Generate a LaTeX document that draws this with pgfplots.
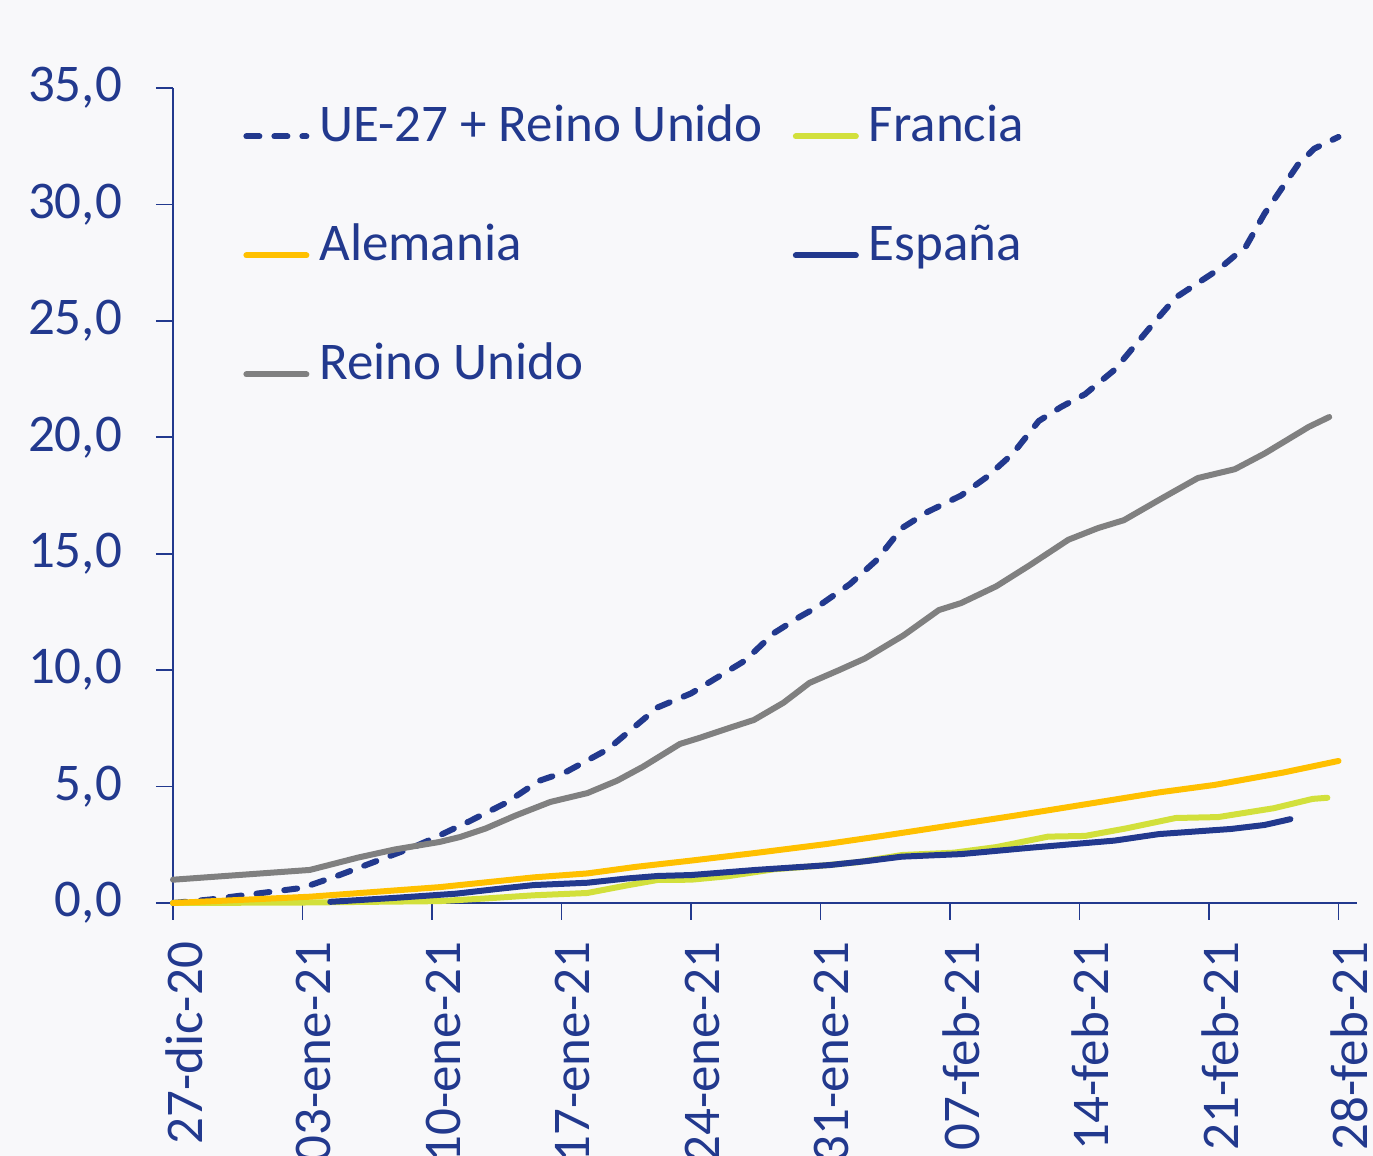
\documentclass[border=0pt]{standalone}
\usepackage{fontspec}
\setmainfont{Carlito}
\usepackage{pgfplots}
\pgfplotsset{compat=1.18}
\definecolor{navy}{HTML}{22398E}
\definecolor{gold}{HTML}{FFC000}
\definecolor{lime}{HTML}{D2E03C}
\definecolor{greyl}{HTML}{808080}
\definecolor{bg}{HTML}{F8F8FA}
\newcommand{\chartfont}{\fontsize{26.5}{32}\selectfont}
\begin{document}
\begin{tikzpicture}
\fill[bg] (-86.5pt,-126.5pt) rectangle (600pt,451.5pt);
\begin{axis}[
  at={(0pt,0pt)}, anchor=south west,
  scale only axis, width=592pt, height=407.5pt,
  xmin=0, xmax=64, ymin=0, ymax=35,
  clip=false,
  axis x line=bottom, axis y line=left,
  axis line style={-, navy, line width=0.8pt},
  tick style={navy, line width=0.8pt},
  tick align=outside, major tick length=8.5pt,
  xtick={0,7,...,63},
  xticklabels={27-dic-20,03-ene-21,10-ene-21,17-ene-21,24-ene-21,31-ene-21,07-feb-21,14-feb-21,21-feb-21,28-feb-21},
  ytick={0,5,...,35},
  every tick label/.append style={font=\chartfont, text=navy},
  xticklabel style={xshift=5.5pt, yshift=-7.5pt, rotate=90, anchor=east},
  yticklabel style={xshift=-13.5pt, /pgf/number format/.cd, fixed, fixed zerofill, precision=1, use comma},
  /pgf/number format/assume math mode=true,
  legend columns=2,
  legend cell align=left,
  legend style={at={(axis description cs:0,1)}, anchor=north west, xshift=35pt, yshift=-19pt,
    draw=none, fill=none, inner sep=0pt, font=\chartfont, text=navy,
    nodes={inner sep=0pt, text height=0.75em, text depth=0.25em},
    /tikz/row sep=49.5pt,
    /tikz/every odd column/.append style={column sep=5pt},
    /tikz/every even column/.append style={column sep=15pt}},
  legend image code/.code={\draw[#1] (0pt,0pt) -- (30pt,0pt);},
  every axis plot/.append style={line width=3pt, line cap=round, line join=round},
]
\addplot[navy, dash pattern=on 6.5pt off 7.5pt] coordinates {
(0,0.0) (2,0.15) (4,0.35) (7,0.65) (9,1.2) (11,1.8) (13,2.4) (14,2.75) (16,3.5) (18,4.3)
(19.8,5.25) (21.3,5.65) (23.5,6.6) (26.2,8.4) (28,9.0) (30.9,10.4) (32.5,11.6) (33.9,12.3) (34.8,12.7)
(36.6,13.7) (38,14.7) (39.4,16.1) (40.8,16.8) (42.6,17.5) (44,18.3) (45.4,19.3) (46.8,20.7)
(48,21.3) (49.3,21.85) (50.9,22.9) (52.9,24.8) (54.2,26.0) (56.5,27.2) (58,28.2) (59,29.6)
(60.8,31.7) (61.7,32.4) (63,32.9)};
\addlegendentry{UE-27 + Reino Unido}
\addplot[lime] coordinates {
(0,0.0) (7,0.02) (14.4,0.08) (17,0.2) (19.5,0.33) (22.4,0.43) (24.5,0.75) (26.2,0.99) (28,1.0)
(30,1.15) (32.5,1.45) (35,1.6) (37,1.75) (39.4,2.06) (42.2,2.16) (44.5,2.4) (47.3,2.85) (49.3,2.88)
(51.5,3.2) (54.2,3.65) (56.5,3.69) (59.5,4.07) (61.6,4.47) (62.4,4.52)};
\addlegendentry{Francia}
\addplot[gold] coordinates {
(0,0.0) (7.4,0.27) (14.4,0.68) (19.5,1.1) (22.4,1.27) (25,1.55) (28,1.82) (31.5,2.15) (35.3,2.53)
(38.5,2.9) (42.2,3.35) (45.5,3.75) (49.1,4.21) (53.3,4.75) (56.3,5.07) (60,5.6) (63,6.1)};
\addlegendentry{Alemania}
\addplot[navy] coordinates {
(8.5,0.05) (12,0.22) (15.3,0.4) (17.5,0.6) (19.5,0.77) (22.4,0.87) (24.5,1.05) (26.2,1.16) (28,1.2)
(31.5,1.42) (35.5,1.63) (37.5,1.8) (39.4,1.99) (42.6,2.1) (46.3,2.37) (50.9,2.68) (53.3,2.96)
(57.2,3.18) (59,3.35) (60.4,3.6)};
\addlegendentry{España}
\addplot[greyl] coordinates {
(0,1.0) (7.4,1.42) (10,1.95) (12,2.3) (14.4,2.62) (15.5,2.83) (16.9,3.2) (18.5,3.75) (20.4,4.34)
(22.4,4.72) (24,5.25) (25.4,5.85) (27.4,6.83) (28.5,7.1) (30,7.5) (31.4,7.86) (33,8.6) (34.4,9.45)
(36,10.0) (37.4,10.5) (39.5,11.5) (41.4,12.58) (42.6,12.88) (44.5,13.6) (46.3,14.5) (48.4,15.6)
(50,16.1) (51.4,16.44) (53.5,17.4) (55.4,18.25) (57.4,18.63) (59,19.3) (61.4,20.45) (62.5,20.87)};
\addlegendentry{Reino Unido}
\end{axis}
\pgfresetboundingbox
\path[use as bounding box] (-86.5pt,-126.5pt) rectangle (600pt,451.5pt);
\end{tikzpicture}
\end{document}
